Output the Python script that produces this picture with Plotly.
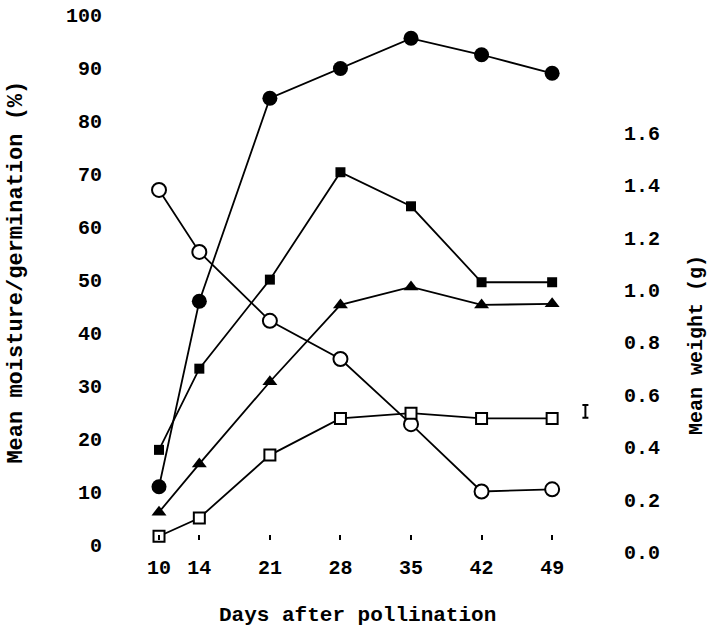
import plotly.graph_objects as go

days = [10, 14, 21, 28, 35, 42, 49]
germination_pct = [11.0, 46.0, 84.3, 89.9, 95.6, 92.5, 89.0]      # filled circles
moisture_pct = [67.0, 55.3, 42.3, 35.1, 22.8, 10.1, 10.5]         # open circles
triangle_pct = [6.2, 15.3, 30.8, 45.3, 48.7, 45.3, 45.5]          # filled triangles
fresh_weight_g = [0.39, 0.70, 1.04, 1.45, 1.32, 1.03, 1.03]       # filled squares
dry_weight_g = [0.06, 0.13, 0.37, 0.51, 0.53, 0.51, 0.51]         # open squares
lsd_x = [52.3]
lsd_y = [25.2]
lsd_half = [1.2]

left_ticks = list(range(0, 101, 10))
right_ticks = [0.0, 0.2, 0.4, 0.6, 0.8, 1.0, 1.2, 1.4, 1.6]
right_ticktext = ["0.0", "0.2", "0.4", "0.6", "0.8", "1.0", "1.2", "1.4", "1.6"]

FONT = "Liberation Mono"
W, H = 707, 629
L, R, T, B = 103, 84, 5, 73
PW = W - L - R
PH = H - T - B
PB = H - B  # plot bottom in pixels

fig = go.Figure()
line = dict(color="black", width=1.8)

fig.add_trace(go.Scatter(x=days, y=fresh_weight_g, yaxis="y2", mode="lines+markers",
                         line=line, marker=dict(symbol="square", size=10, color="black")))
fig.add_trace(go.Scatter(x=days, y=dry_weight_g, yaxis="y2", mode="lines+markers",
                         line=line, marker=dict(symbol="square", size=11, color="white",
                                                line=dict(color="black", width=2))))
fig.add_trace(go.Scatter(x=days, y=triangle_pct, mode="lines+markers",
                         line=line, marker=dict(symbol="triangle-up", size=13, color="black")))
fig.add_trace(go.Scatter(x=days, y=moisture_pct, mode="lines+markers",
                         line=line, marker=dict(symbol="circle", size=14, color="white",
                                                line=dict(color="black", width=2))))
fig.add_trace(go.Scatter(x=days, y=germination_pct, mode="lines+markers",
                         line=line, marker=dict(symbol="circle", size=15, color="black")))
fig.add_trace(go.Scatter(x=lsd_x, y=lsd_y, mode="markers",
                         marker=dict(size=1, color="black"),
                         error_y=dict(type="data", array=lsd_half, color="black",
                                      thickness=2, width=3)))

# pixel -> value calibration: left 0 at y=545, 5.3 px/unit; right 0.0 at y=552, 261.9 px/unit
top_px, bot_px = 10, 556
left_range = [(545 - bot_px) / 5.3, (545 - top_px) / 5.3]
right_range = [(552 - bot_px) / 261.9, (552 - top_px) / 261.9]

fig.update_layout(
    width=W, height=H,
    margin=dict(l=L, r=R, t=T, b=B),
    paper_bgcolor="white", plot_bgcolor="white",
    showlegend=False,
    font=dict(family=FONT, size=20, color="black", weight="bold"),
    xaxis=dict(range=[4.444, 56.03], tickvals=days, ticks="outside", ticklen=5,
               tickwidth=2, tickcolor="black", showline=False, showgrid=False,
               zeroline=False, anchor="free", position=(PB - 534) / PH,
               ticklabelstandoff=10),
    yaxis=dict(range=left_range, tickvals=left_ticks, showline=False,
               showgrid=False, zeroline=False, ticks=""),
    yaxis2=dict(range=right_range, tickvals=right_ticks, ticktext=right_ticktext,
                overlaying="y", side="right", showline=False, showgrid=False,
                zeroline=False, ticks=""),
    annotations=[
        dict(text="Days after pollination", xref="paper", yref="paper",
             x=(357.5 - L) / PW, y=(PB - 616) / PH,
             showarrow=False, xanchor="center", yanchor="middle",
             font=dict(family=FONT, size=21, weight="bold")),
        dict(text="Mean moisture/germination (%)", xref="paper", yref="paper",
             x=(17 - L) / PW, y=(PB - 270) / PH, textangle=-90,
             showarrow=False, xanchor="center", yanchor="middle",
             font=dict(family=FONT, size=22, weight="bold")),
        dict(text="Mean weight (g)", xref="paper", yref="paper",
             x=(697 - L) / PW, y=(PB - 343) / PH, textangle=-90,
             showarrow=False, xanchor="center", yanchor="middle",
             font=dict(family=FONT, size=20, weight="bold")),
    ],
)

fig.write_html("out.html", config={"displayModeBar": False},
               post_script="document.body.style.margin='0px';")
